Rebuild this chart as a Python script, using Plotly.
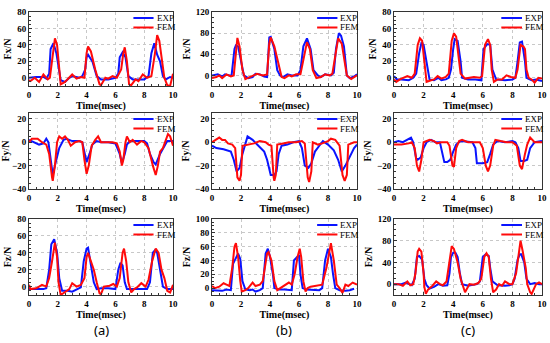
import plotly.graph_objects as go

# ---------------- data ----------------
# Panel (a)
ax_exp_t = [0, 0.5, 1.0, 1.2, 1.4, 1.5, 1.7, 1.9, 2.2, 2.5, 2.8, 3.0, 3.5, 3.7, 3.9, 4.0, 4.1, 4.4, 4.7, 5.0, 5.5, 6.0, 6.2, 6.3, 6.5, 6.7, 6.9, 7.2, 8.0, 8.3, 8.5, 8.7, 8.9, 9.1, 9.3, 9.5, 9.8, 10]
ax_exp_v = [0, 1, 1, -1, 5, 35, 42, 30, -3, -5, 0, 2, 0, 2, 10, 25, 28, 20, 2, -2, -2, 0, 5, 25, 31, 25, 2, -2, -2, 2, 30, 42, 28, 20, 2, -2, 1, 0]
ax_fem_t = [0, 0.1, 0.4, 0.7, 1.0, 1.3, 1.45, 1.65, 1.8, 1.95, 2.1, 2.2, 2.5, 2.8, 3.0, 3.3, 3.6, 3.85, 4.0, 4.1, 4.3, 4.6, 4.9, 5.0, 5.3, 5.5, 5.8, 6.1, 6.4, 6.55, 6.65, 6.8, 6.95, 7.1, 7.4, 7.6, 7.9, 8.2, 8.5, 8.75, 8.9, 9.05, 9.2, 9.4, 9.6, 9.8, 10]
ax_fem_v = [-3, -4, 0, -5, 4, -2, 0, 30, 48, 40, 10, -8, -5, 0, 4, -1, 1, 0, 30, 38, 32, 10, -8, -9, 0, -1, 2, 0, 10, 30, 37, 20, -8, -9, -2, -4, 4, 0, 2, 30, 52, 45, 25, 0, -9, -10, 5]

ay_exp_t = [0, 0.3, 0.7, 1.0, 1.2, 1.35, 1.5, 1.65, 1.8, 2.1, 2.4, 2.6, 3.0, 3.5, 3.7, 3.9, 4.0, 4.2, 4.4, 4.7, 5.0, 5.5, 6.0, 6.3, 6.45, 6.65, 6.8, 7.0, 7.5, 8.0, 8.2, 8.4, 8.65, 8.8, 9.1, 9.4, 9.6, 10]
ay_exp_v = [2, 0, -2, -1, 3, 0, -15, -28, -20, -5, 2, 3, 1, 1, 0, -10, -17, -10, -2, 1, 0, 0, -1, -10, -18, -10, -2, 1, 1, 1, -1, -10, -17, -19, -10, -3, 1, 1]
ay_fem_t = [0, 0.2, 0.6, 0.9, 1.2, 1.4, 1.6, 1.65, 1.8, 1.95, 2.1, 2.3, 2.5, 2.7, 2.9, 3.2, 3.5, 3.7, 3.85, 4.0, 4.15, 4.35, 4.6, 4.8, 5.0, 5.3, 5.8, 6.1, 6.3, 6.45, 6.55, 6.7, 6.8, 7.0, 7.2, 7.5, 7.8, 8.0, 8.3, 8.6, 8.8, 8.95, 9.1, 9.3, 9.5, 9.65, 9.8, 10]
ay_fem_v = [0, 3, 3, 0, -2, -10, -30, -33, -20, 0, 5, 3, 5, 2, -3, 0, 1, 0, -15, -27, -20, -3, 2, 5, 0, 0, 0, -1, -8, -20, -15, 0, 5, 0, 2, -2, 1, 0, -5, -20, -28, -20, -8, -5, 2, 7, 5, -3]

az_exp_t = [0, 0.5, 1.0, 1.2, 1.4, 1.55, 1.75, 1.95, 2.1, 2.3, 2.7, 3.0, 3.3, 3.6, 3.8, 4.0, 4.1, 4.3, 4.5, 4.7, 5.0, 5.5, 6.0, 6.2, 6.35, 6.5, 6.65, 6.8, 7.5, 8.2, 8.4, 8.6, 8.75, 8.9, 9.1, 9.3, 9.5, 9.7, 10]
az_exp_v = [-3, -3, -3, -2, 20, 50, 56, 40, 10, -5, -5, -6, -3, -1, 30, 45, 46, 25, 5, -3, -2, -2, -3, 20, 28, 25, 5, -3, -3, -3, 5, 40, 43, 40, 20, 0, -2, -3, -3]
az_fem_t = [0, 0.1, 0.5, 0.9, 1.2, 1.4, 1.6, 1.8, 1.95, 2.05, 2.2, 2.5, 2.8, 3.0, 3.3, 3.6, 3.85, 4.0, 4.1, 4.3, 4.5, 4.7, 4.9, 5.0, 5.2, 5.6, 5.85, 6.1, 6.3, 6.5, 6.6, 6.75, 6.9, 7.1, 7.3, 7.5, 7.8, 8.1, 8.3, 8.55, 8.8, 9.0, 9.2, 9.4, 9.6, 9.8, 10]
az_fem_v = [2, -3, -2, 2, 0, 10, 30, 52, 35, 5, -10, -6, -3, 4, 0, 2, 10, 35, 40, 30, 20, 5, -8, -9, 0, 1, 3, 0, 10, 40, 45, 30, 5, -7, -3, -1, 4, 0, 8, 30, 45, 40, 20, 10, -5, -7, 2]

# Panel (b)
bx_exp_t = [0, 0.4, 0.7, 0.9, 1.2, 1.35, 1.55, 1.65, 1.8, 2.0, 2.2, 2.5, 2.8, 3.0, 3.3, 3.6, 3.8, 3.95, 4.05, 4.3, 4.5, 4.7, 4.9, 5.2, 5.5, 5.9, 6.1, 6.3, 6.55, 6.8, 7.0, 7.3, 7.5, 7.8, 8.2, 8.4, 8.55, 8.75, 8.9, 9.1, 9.3, 9.5, 9.8, 10]
bx_exp_v = [0, 2, -2, 2, 0, 0, 50, 57, 55, 30, 0, -5, -3, 3, 2, -2, -3, 72, 73, 50, 10, 0, -3, 2, 0, 0, 10, 55, 70, 50, 10, 0, -3, 2, 0, 5, 50, 80, 75, 55, 0, -5, -2, 2]
bx_fem_t = [0, 0.3, 0.5, 0.7, 1.0, 1.3, 1.5, 1.65, 1.75, 1.9, 2.1, 2.3, 2.6, 2.9, 3.1, 3.5, 3.8, 3.95, 4.05, 4.3, 4.6, 4.8, 5.0, 5.3, 5.5, 5.8, 6.1, 6.3, 6.55, 6.75, 6.95, 7.2, 7.5, 7.8, 8.1, 8.3, 8.55, 8.7, 8.95, 9.1, 9.3, 9.6, 9.8, 10]
bx_fem_v = [-5, -3, 0, -5, 2, -2, 0, 50, 71, 55, 10, -7, -3, 0, 3, 0, 2, 60, 72, 55, 20, -3, -5, 0, -2, 2, 2, 30, 63, 50, 10, -5, -3, 2, 0, 3, 50, 70, 60, 30, 0, -7, -3, 0]

by_exp_t = [0, 0.3, 0.8, 1.3, 1.5, 1.7, 1.9, 2.1, 2.45, 2.8, 3.2, 3.6, 3.8, 4.05, 4.3, 4.45, 4.6, 4.8, 5.2, 5.6, 6.0, 6.2, 6.4, 6.65, 6.85, 7.1, 7.4, 7.65, 8.0, 8.4, 8.7, 8.95, 9.2, 9.5, 9.8, 10]
by_exp_v = [-3, -5, -6, -8, -15, -25, -22, -10, 5, 2, -3, -8, -15, -28, -28, -25, -10, -3, -2, 0, 1, -5, -20, -22, -18, -8, -3, 1, -2, -7, -15, -25, -20, -12, -5, -2]
by_fem_t = [0, 0.3, 0.5, 0.7, 0.9, 1.1, 1.4, 1.6, 1.75, 1.9, 2.0, 2.1, 2.5, 2.9, 3.3, 3.7, 3.9, 4.1, 4.25, 4.3, 4.4, 4.5, 4.9, 5.3, 5.8, 6.2, 6.4, 6.6, 6.7, 6.85, 6.95, 7.3, 7.6, 8.0, 8.2, 8.5, 8.8, 9.0, 9.15, 9.3, 9.4, 9.8, 10]
by_fem_v = [0, 2, 4, 2, 2, -1, -2, -5, -30, -33, -28, -3, -2, -1, 1, 0, -2, -3, -30, -33, -28, -2, -1, 0, 0, 1, -1, -30, -34, -25, 0, -2, -1, 1, 3, 2, -3, -28, -33, -28, -2, 0, 0]

bz_exp_t = [0, 0.4, 0.7, 1.0, 1.3, 1.45, 1.6, 1.8, 1.95, 2.1, 2.3, 2.6, 2.8, 3.0, 3.3, 3.5, 3.7, 3.85, 4.0, 4.2, 4.3, 4.6, 5.0, 5.3, 5.5, 5.65, 5.85, 6.0, 6.1, 6.25, 6.5, 7.0, 7.4, 7.6, 7.8, 8.0, 8.2, 8.35, 8.5, 8.8, 9.2, 9.5, 9.8]
bz_exp_v = [-3, -3, -4, -2, -3, 35, 42, 50, 42, 10, -2, -3, -2, -5, -3, 0, 50, 57, 45, 20, 0, -2, -2, -3, -3, 40, 45, 48, 20, 0, -2, -3, -3, 0, 40, 57, 45, 20, 0, -3, -4, -3, -1]
bz_fem_t = [0, 0.2, 0.5, 0.8, 1.0, 1.2, 1.4, 1.55, 1.65, 1.8, 1.95, 2.05, 2.3, 2.5, 2.8, 3.0, 3.3, 3.5, 3.8, 3.9, 4.1, 4.3, 4.5, 4.7, 4.9, 5.1, 5.3, 5.5, 5.7, 5.9, 6.05, 6.15, 6.3, 6.45, 6.6, 6.8, 7.0, 7.3, 7.6, 7.9, 8.1, 8.2, 8.4, 8.6, 8.8, 9.0, 9.2, 9.4, 9.7, 10]
bz_fem_v = [3, 0, 2, 7, 5, 3, 30, 60, 65, 45, 10, -5, -3, 0, 8, 3, 5, 10, 50, 52, 40, 10, -3, 0, 3, 5, 8, 5, 20, 45, 57, 45, 10, -5, 0, 2, 3, 4, 5, 30, 55, 65, 40, 5, 0, -7, 5, 3, 8, 5]

# Panel (c)
cx_exp_t = [0, 0.2, 0.5, 1.0, 1.3, 1.5, 1.7, 1.85, 2.0, 2.2, 2.4, 2.7, 3.0, 3.2, 3.5, 3.7, 3.85, 4.0, 4.1, 4.3, 4.5, 4.6, 5.0, 5.5, 5.9, 6.05, 6.3, 6.5, 6.65, 6.9, 7.5, 8.0, 8.2, 8.35, 8.5, 8.65, 8.85, 8.95, 9.3, 9.6, 10]
cx_exp_v = [2, -2, -2, -3, 0, 5, 30, 42, 40, 20, -2, -3, 0, -3, -2, 0, 10, 35, 47, 45, 20, 0, -2, -2, -3, 35, 41, 40, 10, -2, -3, -2, 0, 20, 43, 44, 20, 0, -3, -2, -4]
cx_fem_t = [0, 0.15, 0.4, 0.7, 0.9, 1.2, 1.4, 1.6, 1.75, 1.9, 2.05, 2.2, 2.5, 2.7, 2.95, 3.2, 3.5, 3.7, 3.9, 4.05, 4.2, 4.35, 4.5, 4.8, 5.1, 5.4, 5.8, 5.95, 6.15, 6.35, 6.5, 6.6, 6.75, 7.0, 7.3, 7.6, 7.9, 8.2, 8.35, 8.55, 8.75, 8.85, 8.95, 9.1, 9.3, 9.5, 9.75, 10]
cx_fem_v = [-2, -5, -2, 0, 2, 0, 5, 40, 48, 45, 20, -5, -3, -2, 2, -1, 1, 5, 45, 54, 50, 30, 5, -1, 0, 1, 0, 2, 40, 47, 40, 10, -5, -2, -2, 3, 1, 0, 10, 40, 38, 35, 10, 0, -2, -6, 0, -1]

cy_exp_t = [0, 0.3, 0.6, 0.9, 1.15, 1.3, 1.5, 1.6, 1.8, 2.0, 2.2, 2.5, 2.8, 3.1, 3.2, 3.4, 3.6, 3.8, 4.0, 4.2, 4.5, 5.0, 5.3, 5.5, 5.6, 6.0, 6.3, 6.5, 6.7, 7.0, 7.5, 8.0, 8.2, 8.4, 8.55, 8.8, 9.0, 9.2, 9.5, 10]
cy_exp_v = [0, 1, 0, 2, 4, 0, -14, -15, -13, -5, 0, 2, 0, 0, -5, -17, -17, -15, -8, -2, 1, 0, 0, -5, -18, -18, -17, -10, -2, 1, 0, 1, 0, -5, -16, -16, -15, -5, 0, 1]
cy_fem_t = [0, 0.5, 1.0, 1.2, 1.4, 1.55, 1.7, 1.85, 2.0, 2.4, 2.7, 2.9, 3.2, 3.6, 3.75, 3.95, 4.05, 4.2, 4.4, 4.6, 5.0, 5.5, 5.8, 6.0, 6.2, 6.35, 6.5, 6.7, 6.85, 7.2, 7.6, 8.0, 8.3, 8.5, 8.65, 8.85, 9.0, 9.2, 9.5, 10]
cy_fem_v = [-2, -2, -1, 0, -5, -20, -25, -15, 0, 2, 1, -1, 0, 0, -3, -20, -21, -5, 1, 2, 0, 0, 0, -5, -20, -25, -20, -3, 2, 1, 0, 0, -3, -20, -23, -10, -2, 4, 0, 0]

cz_exp_t = [0, 0.5, 0.8, 1.0, 1.2, 1.4, 1.55, 1.7, 1.9, 2.05, 2.2, 2.4, 2.7, 3.0, 3.3, 3.6, 3.75, 3.85, 4.0, 4.15, 4.3, 4.45, 4.6, 5.0, 5.3, 5.6, 5.8, 6.0, 6.2, 6.4, 6.5, 6.65, 7.0, 7.5, 7.8, 8.0, 8.15, 8.35, 8.5, 8.6, 8.8, 8.95, 9.2, 9.5, 9.8, 10]
cz_exp_v = [0, 0, 3, 0, -2, 10, 50, 52, 45, 10, -2, -8, -5, 0, -3, -2, 20, 50, 58, 58, 50, 20, 0, -3, -2, 0, 5, 50, 55, 52, 30, 5, -2, -3, -2, 0, 10, 45, 55, 55, 40, 10, 0, 2, 0, 0]
cz_fem_t = [0, 0.3, 0.6, 0.9, 1.1, 1.3, 1.45, 1.6, 1.7, 1.85, 2.0, 2.05, 2.15, 2.3, 2.6, 2.85, 3.1, 3.3, 3.55, 3.75, 3.9, 4.05, 4.3, 4.5, 4.7, 4.8, 5.1, 5.4, 5.7, 5.9, 6.1, 6.25, 6.4, 6.55, 6.7, 6.9, 7.1, 7.3, 7.5, 7.8, 8.0, 8.25, 8.45, 8.55, 8.7, 8.9, 9.0, 9.2, 9.3, 9.6, 9.8, 10]
cz_fem_v = [0, 0, -3, 5, -2, 0, 20, 60, 65, 60, 20, -5, -18, -10, -3, 5, 0, -2, 5, 40, 70, 65, 40, 10, -10, -15, 0, -1, 2, 10, 50, 57, 50, 10, -15, -10, 0, -3, 5, 0, 0, 20, 60, 80, 60, 30, 0, -15, -18, 0, 3, 0]

# axis settings (ranges and ticks)
y_titles = ["Fx/N", "Fy/N", "Fz/N"]
y_ranges = [
    [[-10, 80], [-20, 120], [-10, 80]],
    [[-40, 25], [-40, 25], [-40, 25]],
    [[-10, 80], [-10, 100], [-20, 120]],
]
y_dticks = [[20, 40, 20], [20, 20, 20], [20, 20, 40]]
x_range = [0, 10]
x_dtick = 2
panel_labels = ["(a)", "(b)", "(c)"]
legend_names = ["EXP", "FEM"]
legend_colors = ["#0a14ff", "#ff0a0a"]

series = [
    [(ax_exp_t, ax_exp_v, ax_fem_t, ax_fem_v), (bx_exp_t, bx_exp_v, bx_fem_t, bx_fem_v), (cx_exp_t, cx_exp_v, cx_fem_t, cx_fem_v)],
    [(ay_exp_t, ay_exp_v, ay_fem_t, ay_fem_v), (by_exp_t, by_exp_v, by_fem_t, by_fem_v), (cy_exp_t, cy_exp_v, cy_fem_t, cy_fem_v)],
    [(az_exp_t, az_exp_v, az_fem_t, az_fem_v), (bz_exp_t, bz_exp_v, bz_fem_t, bz_fem_v), (cz_exp_t, cz_exp_v, cz_fem_t, cz_fem_v)],
]

# ---------------- layout ----------------
W, H = 550, 343
col_px = [(29, 173), (212, 357), (394, 542)]
row_px = [(12, 86), (113, 189), (219, 295)]

SERIF = "Liberation Serif"
fig = go.Figure()
layout = dict(
    width=W, height=H, margin=dict(l=0, r=0, t=0, b=0, autoexpand=False),
    paper_bgcolor="white", plot_bgcolor="white", showlegend=False,
)

k = 0
for r in range(3):
    for c in range(3):
        k += 1
        xa = "x" if k == 1 else f"x{k}"
        ya = "y" if k == 1 else f"y{k}"
        et, ev, ft, fv = series[r][c]
        fig.add_trace(go.Scatter(x=et, y=ev, mode="lines", name=legend_names[0],
                                 line=dict(color=legend_colors[0], width=2),
                                 xaxis=xa, yaxis=ya))
        fig.add_trace(go.Scatter(x=ft, y=fv, mode="lines", name=legend_names[1],
                                 line=dict(color=legend_colors[1], width=2),
                                 xaxis=xa, yaxis=ya))
        x0, x1 = col_px[c]
        y0, y1 = row_px[r]
        xd = [x0 / W, x1 / W]
        yd = [1 - y1 / H, 1 - y0 / H]
        axfont = dict(family=SERIF, size=9, color="black", weight="bold")
        common = dict(
            showline=True, mirror=True, linecolor="#333333", linewidth=1,
            showgrid=True, gridcolor="#c8c8c8", griddash="dot", gridwidth=1,
            zeroline=False, ticks="inside", ticklen=3, tickcolor="#333333",
            tickfont=axfont, automargin=False,
            minor=dict(ticks="inside", ticklen=2, tickcolor="#333333", showgrid=False),
        )
        layout["xaxis" if k == 1 else f"xaxis{k}"] = dict(
            common, domain=xd, anchor=ya, range=x_range, dtick=x_dtick, tick0=0,
            title=dict(text="Time(msec)", font=dict(family=SERIF, size=10, color="black", weight="bold"), standoff=0),
        )
        layout["yaxis" if k == 1 else f"yaxis{k}"] = dict(
            common, domain=yd, anchor=xa, range=y_ranges[r][c], dtick=y_dticks[r][c], tick0=0,
            title=dict(text=y_titles[r], font=dict(family=SERIF, size=10, color="black", weight="bold"), standoff=3),
        )
        # legend drawn inside each panel (top right)
        h = y1 - y0
        for i in range(2):
            yy = 1 - (6 + 9.5 * i) / h
            fig.add_shape(type="line", xref=f"{xa} domain", yref=f"{ya} domain",
                          x0=0.725, x1=0.865, y0=yy, y1=yy,
                          line=dict(color=legend_colors[i], width=2))
            fig.add_annotation(text=legend_names[i], xref=f"{xa} domain", yref=f"{ya} domain",
                               x=0.872, y=yy, xanchor="left", yanchor="middle",
                               showarrow=False,
                               font=dict(family=SERIF, size=9, color="black"))

fig.update_layout(**layout)

for c in range(3):
    x0, x1 = col_px[c]
    fig.add_annotation(text=panel_labels[c], x=(x0 + x1) / 2 / W, y=1 - 330 / H,
                       xref="paper", yref="paper", showarrow=False,
                       xanchor="center", yanchor="middle",
                       font=dict(family="Noto Sans", size=13, color="black"))

fig.write_html(
    "out.html",
    config={"displayModeBar": False},
    post_script="document.body.style.margin='0';document.body.style.overflow='hidden';",
)
